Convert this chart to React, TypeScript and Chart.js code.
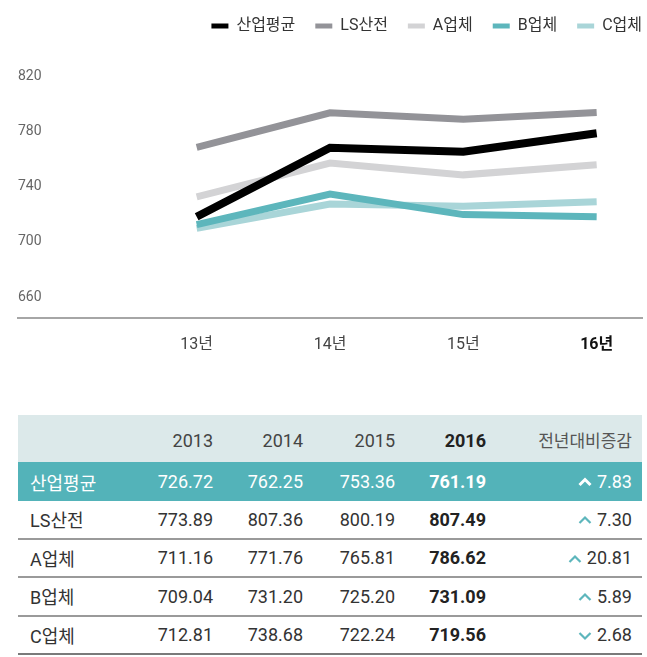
import React, { useEffect, useRef } from 'react';
import { Chart, registerables } from 'chart.js';

Chart.register(...registerables);

// ---- chart data ----
const categories = ['13년', '14년', '15년', '16년'];
const yearValues = [13, 14, 15, 16];
const yTicks = [660, 700, 740, 780, 820];
const seriesNames = ['산업평균', 'LS산전', 'A업체', 'B업체', 'C업체'];
const industryAvg = [718.2, 768.3, 765.4, 778.7];
const lsValues = [768.6, 793.6, 789.0, 793.8];
const aValues = [732.6, 757.1, 748.6, 755.9];
const bValues = [712.5, 734.7, 719.8, 718.2];
const cValues = [709.8, 727.5, 725.8, 729.2];

// ---- table data ----
const tableYears = ['2013', '2014', '2015', '2016'];
const changeHeader = '전년대비증감';
const rowNames = ['산업평균', 'LS산전', 'A업체', 'B업체', 'C업체'];
const table2013 = ['726.72', '773.89', '711.16', '709.04', '712.81'];
const table2014 = ['762.25', '807.36', '771.76', '731.20', '738.68'];
const table2015 = ['753.36', '800.19', '765.81', '725.20', '722.24'];
const table2016 = ['761.19', '807.49', '786.62', '731.09', '719.56'];
const changeValues = ['7.83', '7.30', '20.81', '5.89', '2.68'];
const changeDirections = ['up', 'up', 'up', 'up', 'down'];

const seriesValues = [industryAvg, lsValues, aValues, bValues, cValues];
const seriesColors = ['#000000', '#939398', '#d3d3d5', '#5db6bc', '#a9d5d8'];
const seriesWidths = [8, 7, 7, 7, 7];

const FONT = "Roboto, 'Noto Sans CJK KR', sans-serif";
const TEAL = '#5db6bc';

function Chevron({ dir, color, width }: { dir: string; color: string; width: number }) {
  const pts = dir === 'up' ? '1.5,8 7,2.5 12.5,8' : '1.5,2 7,7.5 12.5,2';
  return (
    <svg width={14} height={10} style={{ display: 'inline-block', verticalAlign: 'middle', marginRight: 5, marginTop: -2 }}>
      <polyline points={pts} fill="none" stroke={color} strokeWidth={width} />
    </svg>
  );
}

export default function App() {
  const ref = useRef<HTMLCanvasElement>(null);

  useEffect(() => {
    const legendShift = {
      id: 'legendShift',
      afterLayout(chart: any) {
        const l = chart.legend;
        if (l) {
          l.left += 20;
          l.right += 20;
          l.top -= 2;
          l.bottom -= 2;
        }
      },
    };
    const chart = new Chart(ref.current!, {
      type: 'line',
      data: {
        datasets: seriesNames.map((name, i) => ({
          label: name,
          data: seriesValues[i].map((v, j) => ({ x: yearValues[j], y: v })),
          borderColor: seriesColors[i],
          backgroundColor: seriesColors[i],
          borderWidth: seriesWidths[i],
          pointRadius: 0,
          pointHoverRadius: 0,
          tension: 0,
          fill: false,
          borderJoinStyle: 'miter',
          borderCapStyle: 'butt',
        })),
      },
      options: {
        responsive: false,
        animation: false,
        layout: { padding: { left: 18, right: 5, top: 0, bottom: 8 } },
        plugins: {
          tooltip: { enabled: false },
          legend: {
            position: 'top',
            align: 'end',
            labels: {
              boxWidth: 17,
              boxHeight: 5,
              padding: 20,
              color: '#333',
              font: { family: FONT, size: 16 },
              generateLabels: (c: any) =>
                Chart.defaults.plugins.legend.labels
                  .generateLabels(c)
                  .map((it: any) => ({ ...it, lineWidth: 0 })),
            },
          },
        },
        scales: {
          x: {
            type: 'linear',
            min: 11.66,
            max: 16.34,
            afterBuildTicks: (s: any) => {
              s.ticks = yearValues.map((v) => ({ value: v }));
            },
            grid: { display: false, drawTicks: false },
            border: { display: true, color: '#a6a6a6', width: 2 },
            ticks: {
              padding: 18,
              autoSkip: false,
              maxRotation: 0,
              callback: (v: any) => categories[yearValues.indexOf(Number(v))] ?? '',
              color: (ctx: any) => (ctx.index === 3 ? '#111' : '#444'),
              font: (ctx: any) => ({ family: FONT, size: 16, weight: ctx.index === 3 ? 'bold' : 'normal' }),
            },
          },
          y: {
            min: 645,
            max: 842,
            afterBuildTicks: (s: any) => {
              s.ticks = yTicks.map((v) => ({ value: v }));
            },
            grid: { display: false, drawTicks: false },
            border: { display: false },
            ticks: {
              mirror: true,
              padding: 0,
              color: '#666',
              font: { family: FONT, size: 14 },
            },
          },
        },
      },
      plugins: [legendShift],
    } as any);
    return () => chart.destroy();
  }, []);

  const cols = [107, 88, 90, 92, 91, 156];
  const rowCols = [table2013, table2014, table2015, table2016];

  return (
    <div style={{ position: 'absolute', left: 0, top: 0, width: 647, height: 657, background: '#fff', fontFamily: FONT }}>
      <canvas ref={ref} width={647} height={381} style={{ display: 'block', width: 647, height: 381 }} />
      <table
        style={{
          position: 'absolute',
          left: 18,
          top: 415,
          width: 624,
          borderCollapse: 'separate',
          borderSpacing: 0,
          tableLayout: 'fixed',
          fontFamily: FONT,
        }}
      >
        <colgroup>
          {cols.map((w, i) => (
            <col key={i} style={{ width: w }} />
          ))}
        </colgroup>
        <thead>
          <tr style={{ background: '#dce9ea' }}>
            <th style={{ height: 47, padding: 0 }} />
            {tableYears.map((y, i) => (
              <th
                key={y}
                style={{
                  padding: 0,
                  textAlign: 'right',
                  fontSize: 18,
                  fontWeight: i === 3 ? 700 : 400,
                  color: i === 3 ? '#222' : '#444',
                  paddingTop: 3,
                }}
              >
                {y}
              </th>
            ))}
            <th style={{ padding: 0, paddingRight: 10, textAlign: 'right', fontSize: 17, fontWeight: 400, color: '#555', paddingTop: 1 }}>
              {changeHeader}
            </th>
          </tr>
        </thead>
        <tbody>
          {rowNames.map((name, r) => {
            const hi = r === 0;
            const color = hi ? '#fff' : '#333';
            const tdBase: React.CSSProperties = {
              padding: 0,
              height: hi ? 39 : 36.5,
              borderBottom: hi ? 'none' : r === rowNames.length - 1 ? '2px solid #7a7a7a' : '2px solid #9a9a9a',
              textAlign: 'right',
              fontSize: 18,
              color,
              background: hi ? '#53b3b9' : '#fff',
            };
            return (
              <tr key={name}>
                <td style={{ ...tdBase, textAlign: 'left', paddingLeft: 12, fontSize: 18 }}>{name}</td>
                {rowCols.map((col, c) => (
                  <td key={c} style={{ ...tdBase, fontWeight: c === 3 ? 700 : 400, color: hi ? '#fff' : c === 3 ? '#222' : '#333' }}>
                    {col[r]}
                  </td>
                ))}
                <td style={{ ...tdBase, paddingRight: 10 }}>
                  <Chevron dir={changeDirections[r]} color={hi ? '#fff' : TEAL} width={hi ? 3 : 2.2} />
                  {changeValues[r]}
                </td>
              </tr>
            );
          })}
        </tbody>
      </table>
    </div>
  );
}
